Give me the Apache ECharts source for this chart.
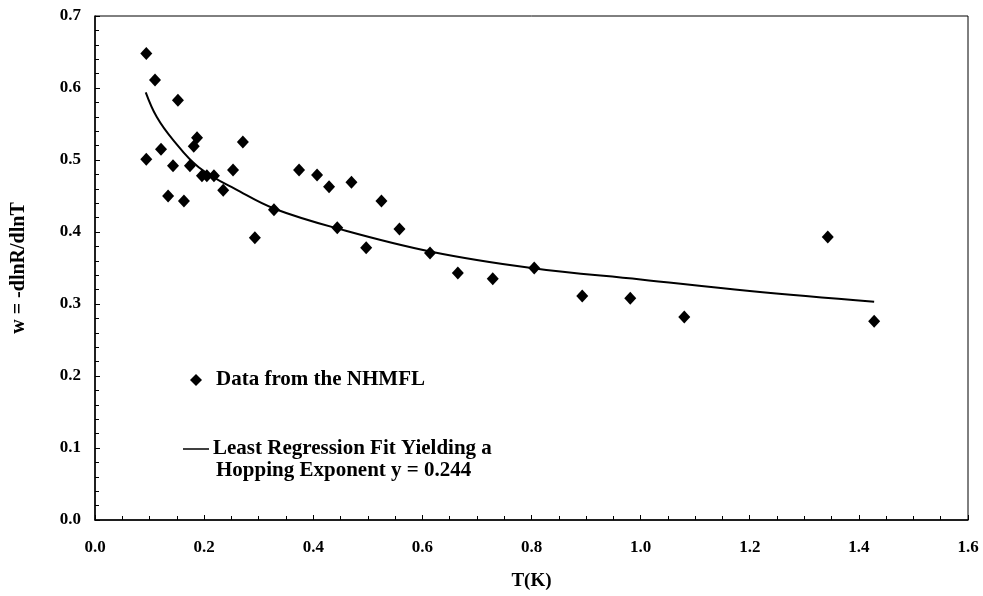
<!DOCTYPE html>
<html>
<head>
<meta charset="utf-8">
<script src="https://cdn.jsdelivr.net/npm/echarts@6/dist/echarts.min.js"></script>
<style>html,body{margin:0;padding:0;background:#fff;}#c{width:983px;height:596px;}</style>
</head>
<body>
<div id="c"></div>
<script>
const dataT = [0.094,0.110,0.152,0.094,0.121,0.134,0.143,0.163,0.174,0.181,0.187,0.196,0.205,0.218,0.235,0.253,0.271,0.293,0.328,0.374,0.407,0.429,0.470,0.525,0.444,0.558,0.497,0.614,0.665,0.729,0.805,0.893,0.981,1.080,1.343,1.428];
const dataW = [0.648,0.611,0.583,0.501,0.515,0.450,0.492,0.443,0.492,0.519,0.531,0.478,0.478,0.478,0.458,0.486,0.525,0.392,0.431,0.486,0.479,0.463,0.469,0.443,0.406,0.404,0.378,0.371,0.343,0.335,0.350,0.311,0.308,0.282,0.393,0.276];
const fitT = [0.093,0.113,0.143,0.190,0.266,0.330,0.444,0.614,0.800,1.000,1.200,1.428];
const fitW = [0.594,0.560,0.528,0.490,0.456,0.432,0.405,0.373,0.350,0.334,0.318,0.303];
const xTicks = [0,0.2,0.4,0.6,0.8,1.0,1.2,1.4,1.6];
const yTicks = [0,0.1,0.2,0.3,0.4,0.5,0.6,0.7];

const font = '"Liberation Serif", "Times New Roman", serif';
const chart = echarts.init(document.getElementById('c'), null, {renderer:'canvas'});
const pts = dataT.map((t,i)=>[t,dataW[i]]);
const fit = fitT.map((t,i)=>[t,fitW[i]]);
chart.setOption({
  animation:false,
  backgroundColor:'#fff',
  grid:{left:95,right:15,top:16,bottom:76,show:true,borderColor:'#000',borderWidth:1},
  xAxis:{type:'value',min:xTicks[0],max:xTicks[xTicks.length-1],interval:0.2,
    name:'T(K)',nameLocation:'middle',nameGap:52,
    nameTextStyle:{fontFamily:font,fontWeight:'bold',fontSize:19,color:'#000'},
    axisLine:{lineStyle:{color:'#000',width:1.5}},
    axisTick:{inside:true,length:5,lineStyle:{color:'#000'}},
    minorTick:{show:true,splitNumber:4,length:4,lineStyle:{color:'#000'}},
    splitLine:{show:false},
    axisLabel:{fontFamily:font,fontWeight:'bold',fontSize:17,color:'#000',margin:19,
      formatter:v=>v.toFixed(1)}},
  yAxis:{type:'value',min:yTicks[0],max:yTicks[yTicks.length-1],interval:0.1,
    name:'w = -dlnR/dlnT',nameLocation:'middle',nameGap:66,
    nameTextStyle:{fontFamily:font,fontWeight:'bold',fontSize:20,color:'#000'},
    axisLine:{lineStyle:{color:'#000',width:1.5}},
    axisTick:{inside:true,length:5,lineStyle:{color:'#000'}},
    minorTick:{show:true,splitNumber:5,length:4,lineStyle:{color:'#000'}},
    splitLine:{show:false},
    axisLabel:{fontFamily:font,fontWeight:'bold',fontSize:17,color:'#000',margin:14,
      formatter:v=>v.toFixed(1)}},
  series:[
    {name:'Least Regression Fit',type:'line',data:fit,smooth:0.4,showSymbol:false,
      lineStyle:{color:'#000',width:2},z:2},
    {name:'Data from the NHMFL',type:'scatter',data:pts,symbol:'diamond',symbolSize:[12,13],
      itemStyle:{color:'#000',opacity:1},z:3}
  ],
  graphic:[
    {type:'polygon',shape:{points:[[196,374],[202,380],[196,386],[190,380]]},style:{fill:'#000'}},
    {type:'text',x:216,y:380,style:{text:'Data from the NHMFL',font:'bold 21px '+font,fill:'#000',verticalAlign:'middle'}},
    {type:'line',shape:{x1:183,y1:449,x2:209,y2:449},style:{stroke:'#000',lineWidth:1.5}},
    {type:'text',x:213,y:449,style:{text:'Least Regression Fit Yielding a',font:'bold 21px '+font,fill:'#000',verticalAlign:'middle'}},
    {type:'text',x:216,y:471,style:{text:'Hopping Exponent y = 0.244',font:'bold 21px '+font,fill:'#000',verticalAlign:'middle'}}
  ]
});
</script>
</body>
</html>
